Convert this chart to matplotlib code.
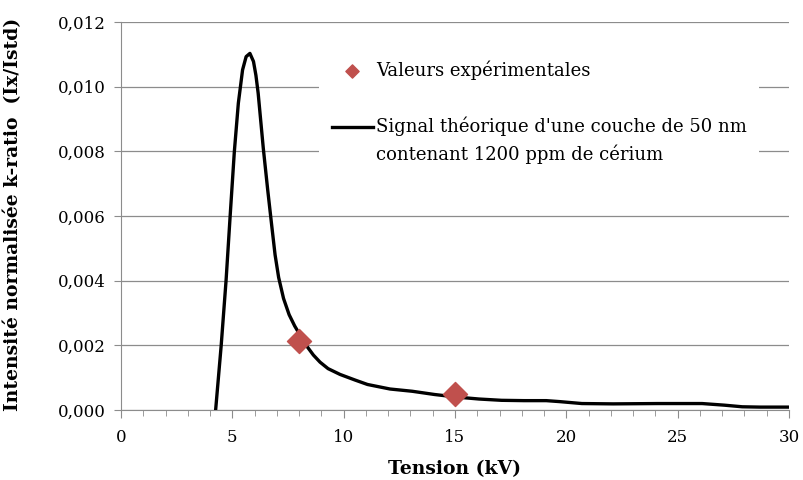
import numpy as np
import matplotlib.pyplot as plt
from matplotlib.legend_handler import HandlerLine2D
from matplotlib.ticker import FuncFormatter, MultipleLocator

# theoretical signal
tension = [4.25, 4.5, 4.72, 4.9, 5.09, 5.27, 5.46, 5.62, 5.79, 5.95, 6.06,
           6.16, 6.39, 6.59, 6.77, 6.92, 7.08, 7.3, 7.55, 7.8, 8.04, 8.34,
           8.64, 8.94, 9.3, 9.84, 10.5, 11.07, 12.08, 13.08, 14.08, 15.08,
           16.08, 17.09, 18.1, 19.1, 19.7, 20.7, 22.1, 24.1, 26.1, 27.1, 27.9,
           28.7, 30.0]
signal = [0.0, 0.002, 0.00402, 0.00598, 0.00799, 0.00949, 0.01052, 0.01093,
          0.01103, 0.01078, 0.01035, 0.0098, 0.0081, 0.0068, 0.0057, 0.0048,
          0.0041, 0.00345, 0.00295, 0.0026, 0.00232, 0.00198, 0.0017, 0.00148,
          0.00128, 0.0011, 0.00093, 0.00079, 0.00065, 0.00058, 0.00048, 0.0004,
          0.00034, 0.0003, 0.00029, 0.00029, 0.00026, 0.0002, 0.00019, 0.0002,
          0.0002, 0.00015, 0.0001, 0.00009, 0.00009]

# experimental values
exp_tension = [8, 15]
exp_valeurs = [0.00215, 0.0005]


class TopLine(HandlerLine2D):
    # put the line next to the first text line, like Excel does
    def create_artists(self, legend, orig_handle, xdescent, ydescent, width,
                       height, fontsize, trans):
        arts = super().create_artists(legend, orig_handle, xdescent, ydescent,
                                      width, height, fontsize, trans)
        for a in arts:
            a.set_ydata(np.asarray(a.get_ydata()) + 10.5)
        return arts


plt.rcParams['font.family'] = ['DejaVu Serif']

fig = plt.figure(figsize=(8.04, 4.8), dpi=100)
ax = fig.add_axes([0.1505, 0.1458, 0.8308, 0.8083])

line, = ax.plot(tension, signal, color="black", lw=2.4, solid_joinstyle="round",
                label="Signal théorique d'une couche de 50 nm\ncontenant 1200 ppm de cérium", zorder=3)
pts = ax.scatter(exp_tension, exp_valeurs, marker="D", s=150, color="#C0504D",
                 label="Valeurs expérimentales", zorder=4)

ax.set_xlim(0, 30)
ax.set_ylim(0, 0.012)
ax.xaxis.set_major_locator(MultipleLocator(5))
ax.xaxis.set_minor_locator(MultipleLocator(1))
ax.yaxis.set_major_locator(MultipleLocator(0.002))
ax.yaxis.set_major_formatter(FuncFormatter(lambda v, p: f"{v:.3f}".replace(".", ",")))

ax.grid(axis="y", color="#8c8c8c", lw=0.9)
ax.set_axisbelow(True)
for s in ["top", "right"]:
    ax.spines[s].set_visible(False)
for s in ["left", "bottom"]:
    ax.spines[s].set_color("#8c8c8c")
ax.tick_params(axis="both", which="both", color="#8c8c8c", labelsize=12, direction="out")
ax.tick_params(axis="x", which="major", length=6, pad=8)
ax.tick_params(axis="x", which="minor", length=4)
ax.tick_params(axis="y", length=5, pad=6)

ax.set_xlabel("Tension (kV)", fontsize=13.5, fontweight="bold")
ax.set_ylabel("Intensité normalisée k-ratio  (Ix/Istd)", fontsize=13.5, fontweight="bold")
ax.xaxis.set_label_coords(0.5, -0.128)
ax.yaxis.set_label_coords(-0.148, 0.505)

leg = ax.legend([pts, line], [pts.get_label(), line.get_label()],
                loc="upper left", bbox_to_anchor=(0.283, 0.957),
                fontsize=13, frameon=True, facecolor="white", edgecolor="none",
                framealpha=1, fancybox=False, handlelength=2.3, handletextpad=0.15,
                labelspacing=2.05, markerscale=0.55, borderpad=0.7,
                handler_map={line: TopLine()})
for t in leg.get_texts():
    t.set_linespacing(1.55)

plt.savefig("out.png", dpi=100)
